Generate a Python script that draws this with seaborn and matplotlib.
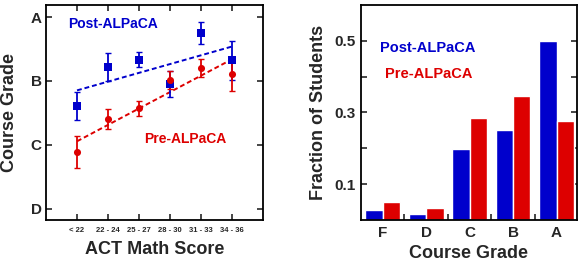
import numpy as np
import pandas as pd
import matplotlib
matplotlib.use("Agg")
import matplotlib.pyplot as plt
import seaborn as sbn
from matplotlib.ticker import FixedLocator

# left panel: course grade vs ACT math score (A=4, B=3, C=2, D=1)
act_bins = ["< 22", "22 - 24", "25 - 27", "28 - 30", "31 - 33", "34 - 36"]
post_grade = [2.60, 3.22, 3.33, 2.95, 3.75, 3.32]
post_err = [0.22, 0.22, 0.12, 0.21, 0.17, 0.30]
pre_grade = [1.88, 2.40, 2.57, 3.02, 3.20, 3.11]
pre_err = [0.25, 0.16, 0.12, 0.14, 0.14, 0.27]
grade_ticks = [4, 3, 2, 1]
grade_labels = ["A", "B", "C", "D"]

# right panel: grade distribution
grades = ["F", "D", "C", "B", "A"]
post_frac = [0.028, 0.016, 0.199, 0.252, 0.499]
pre_frac = [0.050, 0.034, 0.285, 0.346, 0.277]

BLUE = "#0000CC"
RED = "#DD0000"

sbn.set_style("ticks")
plt.rcParams['font.family'] = ['Liberation Sans', 'DejaVu Sans']
plt.rcParams['font.weight'] = 'bold'
plt.rcParams['axes.linewidth'] = 1.3

fig = plt.figure(figsize=(5.81, 2.61), dpi=100)
ax1 = fig.add_axes([0.0792, 0.157, 0.3735, 0.824])
ax2 = fig.add_axes([0.6213, 0.157, 0.3718, 0.824])

xpos = np.arange(len(act_bins))
for grade, err, col, mk in [(post_grade, post_err, BLUE, 's'), (pre_grade, pre_err, RED, 'o')]:
	ax1.errorbar(xpos, grade, yerr=err, fmt='none', ecolor=col, elinewidth=1.3, capsize=2, capthick=1, zorder=2)
	sbn.scatterplot(x=xpos, y=grade, color=col, marker=mk, s=26, edgecolor=col, linewidth=0, ax=ax1, zorder=3)
	k, b = np.polyfit(xpos, grade, 1)
	ax1.plot([xpos[0], xpos[-1]], [b, b + k * xpos[-1]], ls=(0, (2.5, 1.5)), color=col, lw=1.4, zorder=1)

ax1.set_xlim(-1, 6)
ax1.set_ylim(0.82, 4.19)
ax1.set_xticks(xpos)
ax1.set_xticklabels(act_bins, fontsize=5.5)
ax1.set_yticks(grade_ticks)
ax1.set_yticklabels(grade_labels, fontsize=11)
ax1.tick_params(direction='in', top=True, right=True, length=4, width=1.2, pad=3)
ax1.tick_params(axis='x', pad=5)
ax1.set_xlabel("ACT Math Score", fontsize=13, fontweight='bold', labelpad=5)
ax1.set_ylabel("Course Grade", fontsize=13, fontweight='bold', labelpad=9)
ax1.text(0.1, 0.91, "Post-ALPaCA", color=BLUE, fontsize=10, fontweight='bold', transform=ax1.transAxes, va='center')
ax1.text(0.45, 0.375, "Pre-ALPaCA", color=RED, fontsize=10, fontweight='bold', transform=ax1.transAxes, va='center')

df = pd.DataFrame({
	'grade': grades * 2,
	'frac': post_frac + pre_frac,
	'group': ['Post-ALPaCA'] * len(grades) + ['Pre-ALPaCA'] * len(grades),
})
sbn.barplot(data=df, x='grade', y='frac', hue='group', palette=[BLUE, RED], width=0.8,
			saturation=1, legend=False, ax=ax2)
ax2.set_ylim(0, 0.6)
ax2.set_xlim(-0.5, 4.47)
ax2.yaxis.set_major_locator(FixedLocator([0.1, 0.3, 0.5]))
ax2.yaxis.set_minor_locator(FixedLocator([0.2, 0.4]))
ax2.set_yticklabels(["0.1", "0.3", "0.5"], fontsize=11)
ax2.xaxis.set_minor_locator(FixedLocator([0.5, 1.5, 2.5, 3.5]))
ax2.tick_params(axis='y', which='both', direction='in', right=True, length=4, width=1.2)
ax2.tick_params(axis='x', which='major', length=0, labelsize=11, pad=4)
ax2.tick_params(axis='x', which='minor', direction='in', length=4, width=1.2)
ax2.set_xlabel("Course Grade", fontsize=13, fontweight='bold', labelpad=4)
ax2.set_ylabel("Fraction of Students", fontsize=13, fontweight='bold', labelpad=6)
ax2.text(0.09, 0.80, "Post-ALPaCA", color=BLUE, fontsize=10.5, fontweight='bold', transform=ax2.transAxes, va='center')
ax2.text(0.11, 0.68, "Pre-ALPaCA", color=RED, fontsize=10.5, fontweight='bold', transform=ax2.transAxes, va='center')

for ax in (ax1, ax2):
	for s in ax.spines.values():
		s.set_visible(True)
		s.set_color('black')

fig.savefig("out.png", dpi=100)
